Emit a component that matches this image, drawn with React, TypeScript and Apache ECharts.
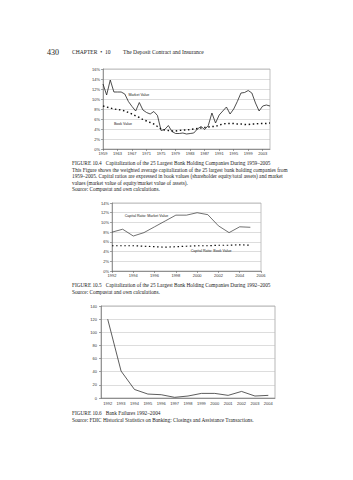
import React, { useEffect, useRef } from 'react';
import * as echarts from 'echarts';

// ---------- Figure 10.4 data ----------
const fig1Years = [
  '1959', '1960', '1961', '1962', '1963', '1964', '1965', '1966', '1967', '1968',
  '1969', '1970', '1971', '1972', '1973', '1974', '1975', '1976', '1977', '1978',
  '1979', '1980', '1981', '1982', '1983', '1984', '1985', '1986', '1987', '1988',
  '1989', '1990', '1991', '1992', '1993', '1994', '1995', '1996', '1997', '1998',
  '1999', '2000', '2001', '2002', '2003', '2004', '2005',
];
const fig1Market = [
  13.0, 10.8, 13.8, 11.4, 11.4, 11.4, 11.0, 9.5, 8.5, 7.6,
  9.3, 7.8, 7.3, 7.0, 7.5, 6.7, 3.7, 3.9, 4.7, 3.5,
  3.1, 3.1, 3.2, 3.0, 3.1, 3.2, 4.0, 4.5, 3.9, 4.7,
  7.2, 5.2, 6.8, 7.6, 8.4, 7.0, 8.0, 9.5, 11.2, 11.3,
  11.7, 11.2, 9.2, 7.6, 8.6, 8.8, 8.6,
];
const fig1Book = [
  8.6, 8.4, 8.2, 8.0, 7.9, 7.8, 7.6, 7.3, 7.0, 6.6,
  6.3, 5.9, 5.6, 5.3, 5.0, 4.5, 4.0, 3.8, 3.7, 3.6,
  3.6, 3.7, 3.8, 3.8, 3.9, 4.0, 4.1, 4.2, 4.3, 4.4,
  4.5, 4.5, 4.8, 5.0, 5.1, 5.1, 5.1, 5.0, 5.0, 4.9,
  4.9, 5.0, 5.0, 5.1, 5.1, 5.1, 5.2,
];

// ---------- Figure 10.5 data ----------
const fig2Years = [1992, 1993, 1994, 1995, 1996, 1997, 1998, 1999, 2000, 2001, 2002, 2003, 2004, 2005];
const fig2Market = [8.0, 8.6, 7.2, 7.9, 9.1, 10.3, 11.5, 11.5, 12.0, 11.6, 9.3, 7.9, 9.1, 9.0];
const fig2Book = [5.2, 5.2, 5.2, 5.1, 5.0, 4.9, 5.0, 5.1, 5.2, 5.2, 5.3, 5.3, 5.4, 5.3];

// ---------- Figure 10.6 data ----------
const fig3Years = ['1992', '1993', '1994', '1995', '1996', '1997', '1998', '1999', '2000', '2001', '2002', '2003', '2004'];
const fig3Failures = [120, 41, 13, 6, 5, 1, 3, 7, 7, 4, 10, 3, 4];

const axisText = { fontSize: 4, color: '#333', fontFamily: 'Liberation Sans' };
const axisLineStyle = { color: '#666', width: 0.6 };
const splitStyle = { color: '#bbb', width: 0.5 };
const serif = 'Liberation Serif';
const capSize = 5.3;

function txt(x: number, y: number, text: string, size = capSize, extra: any = {}) {
  return {
    type: 'text',
    x,
    y,
    silent: true,
    style: {
      text,
      fontSize: size,
      fontFamily: serif,
      fill: '#222',
      verticalAlign: 'middle',
      align: 'left',
      ...extra,
    },
  };
}

function markLabel(coord: any[], text: string) {
  return {
    symbol: 'circle',
    symbolSize: 0,
    silent: true,
    label: {
      show: true,
      formatter: text,
      position: [0, 0],
      align: 'left',
      verticalAlign: 'middle',
      fontSize: 3.6,
      color: '#222',
      fontFamily: 'Liberation Sans',
    },
    data: [{ coord }],
  };
}

export default function App() {
  const ref = useRef<HTMLDivElement>(null);
  useEffect(() => {
    const chart = echarts.init(ref.current!, null, { renderer: 'svg' });
    const option: any = {
      animation: false,
      backgroundColor: '#fff',
      grid: [
        { left: 103, top: 69, width: 167, height: 80, show: true, borderColor: '#999', borderWidth: 0.6 },
        { left: 112, top: 203, width: 149, height: 68, show: true, borderColor: '#999', borderWidth: 0.6 },
        { left: 101, top: 306, width: 174, height: 92, show: true, borderColor: '#888', borderWidth: 0.6 },
      ],
      xAxis: [
        {
          gridIndex: 0,
          type: 'category',
          data: fig1Years,
          boundaryGap: false,
          axisLine: { lineStyle: axisLineStyle },
          axisTick: { interval: 3, length: 2, lineStyle: axisLineStyle },
          axisLabel: { ...axisText, interval: 3, margin: 2 },
        },
        {
          gridIndex: 1,
          type: 'value',
          min: 1992,
          max: 2006,
          interval: 2,
          axisLine: { lineStyle: axisLineStyle },
          axisTick: { show: true, length: 2, lineStyle: axisLineStyle },
          axisLabel: { ...axisText, margin: 2, formatter: (v: number) => String(v) },
          splitLine: { show: false },
        },
        {
          gridIndex: 2,
          type: 'category',
          data: fig3Years,
          boundaryGap: true,
          axisLine: { lineStyle: axisLineStyle },
          axisTick: { length: 2, lineStyle: axisLineStyle },
          axisLabel: { ...axisText, interval: 0, margin: 3 },
        },
      ],
      yAxis: [
        {
          gridIndex: 0,
          type: 'value',
          min: 0,
          max: 16,
          interval: 2,
          axisLine: { show: true, lineStyle: axisLineStyle },
          axisTick: { show: true, length: 2, lineStyle: axisLineStyle },
          axisLabel: { ...axisText, margin: 3, formatter: '{value}%' },
          splitLine: { lineStyle: splitStyle },
        },
        {
          gridIndex: 1,
          type: 'value',
          min: 0,
          max: 14,
          interval: 2,
          axisLine: { show: true, lineStyle: axisLineStyle },
          axisTick: { show: true, length: 2, lineStyle: axisLineStyle },
          axisLabel: { ...axisText, margin: 3, formatter: '{value}%' },
          splitLine: { lineStyle: splitStyle },
        },
        {
          gridIndex: 2,
          type: 'value',
          min: 0,
          max: 140,
          interval: 20,
          axisLine: { show: true, lineStyle: axisLineStyle },
          axisTick: { show: true, length: 2, lineStyle: axisLineStyle },
          axisLabel: { ...axisText, margin: 4 },
          splitLine: { lineStyle: splitStyle },
        },
      ],
      series: [
        {
          name: 'Market Value',
          type: 'line',
          xAxisIndex: 0,
          yAxisIndex: 0,
          data: fig1Market,
          symbol: 'none',
          lineStyle: { color: '#222', width: 0.8 },
          markPoint: markLabel(['1966', 10.8], 'Market Value'),
        },
        {
          name: 'Book Value',
          type: 'line',
          xAxisIndex: 0,
          yAxisIndex: 0,
          data: fig1Book,
          symbol: 'none',
          lineStyle: { color: '#111', width: 1.4, type: [1.5, 2.6] },
          markPoint: markLabel(['1962', 5.0], 'Book Value'),
        },
        {
          name: 'Capital Ratio: Market Value',
          type: 'line',
          xAxisIndex: 1,
          yAxisIndex: 1,
          data: fig2Years.map((y, i) => [y, fig2Market[i]]),
          symbol: 'none',
          lineStyle: { color: '#333', width: 0.7 },
          markPoint: markLabel([1993.2, 11.3], 'Capital Ratio: Market Value'),
        },
        {
          name: 'Capital Ratio: Book Value',
          type: 'line',
          xAxisIndex: 1,
          yAxisIndex: 1,
          data: fig2Years.map((y, i) => [y, fig2Book[i]]),
          symbol: 'none',
          lineStyle: { color: '#111', width: 1.2, type: [1.5, 2.6] },
          markPoint: markLabel([1999.4, 4.1], 'Capital Ratio: Book Value'),
        },
        {
          name: 'Bank Failures',
          type: 'line',
          xAxisIndex: 2,
          yAxisIndex: 2,
          data: fig3Failures,
          symbol: 'none',
          lineStyle: { color: '#333', width: 0.8 },
        },
      ],
      graphic: [
        txt(47, 52, '430', 8),
        txt(72, 52, 'CHAPTER  •  10', 5.6),
        txt(123, 52, 'The Deposit Contract and Insurance', 5.6),
        txt(72, 163, 'FIGURE 10.4   Capitalization of the 25 Largest Bank Holding Companies During 1959–2005'),
        txt(72, 169.6, 'This Figure shows the weighted average capitalization of the 25 largest bank holding companies from'),
        txt(72, 176.2, '1959–2005. Capital ratios are expressed in book values (shareholder equity/total assets) and market'),
        txt(72, 182.8, 'values (market value of equity/market value of assets).'),
        txt(72, 189.4, 'Source: Compustat and own calculations.'),
        txt(72, 285, 'FIGURE 10.5   Capitalization of the 25 Largest Bank Holding Companies During 1992–2005'),
        txt(72, 291.6, 'Source: Compustat and own calculations.'),
        txt(72, 413, 'FIGURE 10.6   Bank Failures 1992–2004'),
        txt(72, 419.6, 'Source: FDIC Historical Statistics on Banking: Closings and Assistance Transactions.'),
      ],
    };
    chart.setOption(option);
    return () => chart.dispose();
  }, []);
  return (
    <div
      ref={ref}
      style={{ position: 'absolute', left: 0, top: 0, width: 353, height: 480 }}
    />
  );
}
